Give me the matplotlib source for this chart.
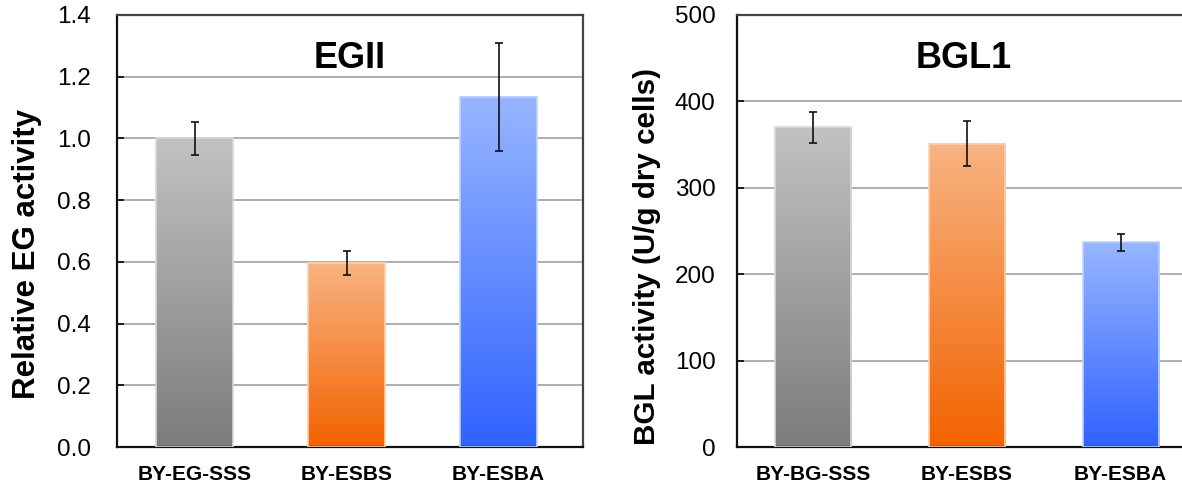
import matplotlib
matplotlib.use("Agg")
import matplotlib.pyplot as plt
import numpy as np
from matplotlib.colors import LinearSegmentedColormap

plt.rcParams['font.family'] = ['Liberation Sans', 'DejaVu Sans']

eg_categories = ["BY-EG-SSS", "BY-ESBS", "BY-ESBA"]
eg_values = [1.0, 0.597, 1.135]
eg_errors = [0.053, 0.038, 0.175]
eg_ticks = [0.0, 0.2, 0.4, 0.6, 0.8, 1.0, 1.2, 1.4]

bgl_categories = ["BY-BG-SSS", "BY-ESBS", "BY-ESBA"]
bgl_values = [370, 351, 237]
bgl_errors = [18, 26, 10]
bgl_ticks = [0, 100, 200, 300, 400, 500]

grads = [("#c2c2c2", "#7c7c7c"), ("#f8b482", "#f26300"), ("#97b6ff", "#3062ff")]
edges = ["#d8d8d8", "#fbd0b0", "#c0d2ff"]

fig = plt.figure(figsize=(11.82, 4.9), dpi=100)
ax1 = fig.add_axes([117/1182, 43/490, 466/1182, 432/490])
ax2 = fig.add_axes([737/1182, 43/490, 462/1182, 432/490])


def draw(ax, cats, vals, errs, ticks, ymax, xlim, width, title, fmt, pad):
    x = np.arange(len(cats))
    bars = ax.bar(x, vals, width=width, color='none', edgecolor='none', zorder=2)
    for i, b in enumerate(bars):
        cmap = LinearSegmentedColormap.from_list("g", [grads[i][1], grads[i][0]])
        grad = np.linspace(0, 1, 256).reshape(-1, 1)
        x0, w, h = b.get_x(), b.get_width(), b.get_height()
        ax.imshow(grad, extent=[x0, x0 + w, 0, h], origin='lower', aspect='auto',
                  cmap=cmap, zorder=2, interpolation='bicubic')
        ax.add_patch(plt.Rectangle((x0, 0), w, h, fill=False, edgecolor=edges[i],
                                   linewidth=1.2, zorder=3))
    ax.errorbar(x, vals, yerr=errs, fmt='none', ecolor='#111111', elinewidth=1.2,
                capsize=3, capthick=1.2, zorder=4)
    ax.set_xlim(*xlim)
    ax.set_ylim(0, ymax)
    ax.set_yticks(ticks)
    ax.set_yticklabels([fmt(t) for t in ticks], fontsize=17.5)
    ax.set_xticks(x)
    ax.set_xticklabels(cats, fontsize=15, fontweight='bold')
    ax.tick_params(axis='y', direction='in', length=5, width=1.2, pad=pad)
    ax.tick_params(axis='x', length=0, pad=13)
    ax.yaxis.grid(True, color='#a8a8a8', linewidth=1.3, zorder=0)
    ax.set_axisbelow(True)
    for s in ['left', 'bottom']:
        ax.spines[s].set_linewidth(1.6)
        ax.spines[s].set_color('#111111')
    for s in ['top', 'right']:
        ax.spines[s].set_linewidth(1.6)
        ax.spines[s].set_color('#444444')
    ax.text(0.5 if title == "EGII" else 0.49, 0.9, title, transform=ax.transAxes,
            ha='center', va='center', fontsize=26, fontweight='bold')


draw(ax1, eg_categories, eg_values, eg_errors, eg_ticks, 1.4, (-0.513, 2.556), 0.507,
     "EGII", lambda t: f"{t:.1f}", 19)
draw(ax2, bgl_categories, bgl_values, bgl_errors, bgl_ticks, 500, (-0.495, 2.51), 0.495,
     "BGL1", lambda t: f"{t:d}", 15.5)

fig.text(27/1182, 1 - 254/490, "Relative EG activity", rotation=90, ha='center',
         va='center', fontsize=22.5, fontweight='bold')
fig.text(647/1182, 1 - 256/490, "BGL activity (U/g dry cells)", rotation=90,
         ha='center', va='center', fontsize=21.3, fontweight='bold')

fig.savefig("out.png", dpi=100)
